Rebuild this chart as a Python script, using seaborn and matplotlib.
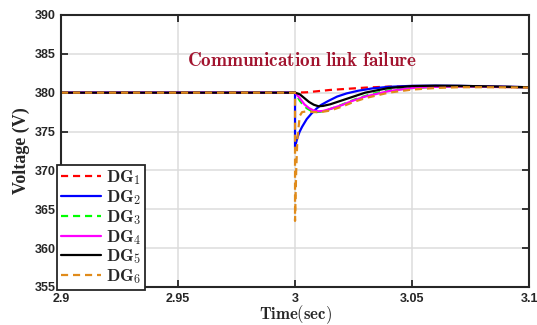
import numpy as np
import pandas as pd
import matplotlib
matplotlib.use("Agg")
import matplotlib.pyplot as plt
import seaborn as sns

# ---- data ----
t_dg1 = [2.9, 3.0, 3.005, 3.01, 3.015, 3.02, 3.03, 3.04, 3.05, 3.06, 3.07, 3.08, 3.09, 3.1]
v_dg1 = [380.0, 380.0, 380.05, 380.2, 380.35, 380.45, 380.65, 380.78, 380.8, 380.8, 380.78, 380.75, 380.72, 380.7]

t_dg2 = [2.9, 3.0, 3.0, 3.001, 3.002, 3.003, 3.005, 3.007, 3.009, 3.011, 3.014, 3.018, 3.022, 3.027,
         3.033, 3.04, 3.05, 3.06, 3.07, 3.08, 3.09, 3.1]
v_dg2 = [380.0, 380.0, 373.0, 374.2, 375.0, 375.6, 376.6, 377.3, 377.9, 378.4, 378.9, 379.5, 379.9, 380.25,
         380.55, 380.75, 380.88, 380.9, 380.88, 380.82, 380.76, 380.7]

t_dg3 = [2.9, 3.0, 3.001, 3.002, 3.003, 3.005, 3.007, 3.009, 3.011, 3.014, 3.018, 3.022, 3.027, 3.033,
         3.04, 3.05, 3.06, 3.07, 3.08, 3.09, 3.1]
v_dg3 = [380.0, 380.0, 379.5, 379.0, 378.6, 378.0, 377.65, 377.5, 377.55, 377.8, 378.2, 378.7, 379.3, 379.85,
         380.3, 380.6, 380.75, 380.8, 380.78, 380.74, 380.7]

t_dg4 = [2.9, 3.0, 3.002, 3.004, 3.006, 3.008, 3.01, 3.012, 3.015, 3.02, 3.025, 3.03, 3.04, 3.05,
         3.06, 3.07, 3.08, 3.09, 3.1]
v_dg4 = [380.0, 380.0, 379.3, 378.5, 378.0, 377.7, 377.6, 377.65, 377.9, 378.4, 379.0, 379.5, 380.2, 380.6,
         380.75, 380.8, 380.78, 380.74, 380.7]

t_dg5 = [2.9, 3.0, 3.002, 3.004, 3.006, 3.008, 3.01, 3.012, 3.015, 3.02, 3.025, 3.03, 3.04, 3.05,
         3.06, 3.07, 3.08, 3.09, 3.1]
v_dg5 = [380.0, 380.0, 379.8, 379.3, 378.8, 378.45, 378.25, 378.3, 378.5, 379.0, 379.5, 380.0, 380.6, 380.85,
         380.9, 380.88, 380.82, 380.76, 380.7]

t_dg6 = [2.9, 3.0, 3.0, 3.0005, 3.001, 3.002, 3.003, 3.005, 3.008, 3.011, 3.015, 3.02, 3.025, 3.03,
         3.04, 3.05, 3.06, 3.07, 3.08, 3.09, 3.1]
v_dg6 = [380.0, 380.0, 363.5, 370.0, 374.0, 377.0, 377.5, 377.6, 377.5, 377.5, 377.7, 378.2, 378.8, 379.3,
         380.0, 380.4, 380.6, 380.7, 380.7, 380.68, 380.65]

labels = [r'$\mathbf{DG}_\mathbf{1}$', r'$\mathbf{DG}_\mathbf{2}$', r'$\mathbf{DG}_\mathbf{3}$',
          r'$\mathbf{DG}_\mathbf{4}$', r'$\mathbf{DG}_\mathbf{5}$', r'$\mathbf{DG}_\mathbf{6}$']
colors = ['#FF0000', '#0000FF', '#00FF00', '#FF00FF', '#000000', '#E08B1B']
dashed = [True, False, True, False, False, True]

x_ticks = [2.9, 2.95, 3.0, 3.05, 3.1]
x_ticklabels = ['2.9', '2.95', '3', '3.05', '3.1']
y_ticks = [355, 360, 365, 370, 375, 380, 385, 390]
annotation = r'$\mathbf{Communication\ link\ failure}$'

# ---- plot ----
sns.set_theme(style='whitegrid')
plt.rcParams['mathtext.fontset'] = 'cm'
plt.rcParams['font.family'] = ['Liberation Sans', 'DejaVu Sans']

fig = plt.figure(figsize=(5.37, 3.25), dpi=100)
ax = fig.add_axes([0.1136, 0.117, 0.8716, 0.837])

series = list(zip([t_dg1, t_dg2, t_dg3, t_dg4, t_dg5, t_dg6],
                  [v_dg1, v_dg2, v_dg3, v_dg4, v_dg5, v_dg6]))
for (tt, vv), lab, col, d in zip(series, labels, colors, dashed):
    df = pd.DataFrame({'t': tt, 'v': vv})
    sns.lineplot(data=df, x='t', y='v', ax=ax, color=col, label=lab, sort=False,
                 estimator=None, linewidth=1.6,
                 linestyle=(0, (3.2, 2.2)) if d else '-')

ax.set_xlim(2.9, 3.1)
ax.set_ylim(355, 390)
ax.set_xticks(x_ticks)
ax.set_xticklabels(x_ticklabels)
ax.set_yticks(y_ticks)
ax.set_facecolor('white')
ax.grid(True, color='#DCDCDC', linewidth=1.1)
for s in ax.spines.values():
    s.set_color('#262626')
    s.set_linewidth(1.5)
    s.set_visible(True)
ax.tick_params(direction='in', length=5, width=1.3, colors='#262626', top=True, right=True,
               bottom=True, left=True, labelsize=9, pad=4)
for lab in ax.get_xticklabels() + ax.get_yticklabels():
    lab.set_fontweight('bold')

ax.set_xlabel(r'$\mathbf{Time(sec)}$', fontsize=12, labelpad=-1)
ax.set_ylabel('Voltage (V)', family='Liberation Serif', fontweight='bold', fontsize=13, labelpad=3)

ax.text(3.003, 384.1, annotation, color='#A2142F', fontsize=13.8,
        ha='center', va='center')

leg = ax.legend(loc='lower left', bbox_to_anchor=(-0.008, -0.01), fontsize=12.5, frameon=True,
                fancybox=False, edgecolor='#262626', handlelength=2.3, handletextpad=0.3,
                borderpad=0.2, labelspacing=0.05, borderaxespad=0)
leg.get_frame().set_linewidth(1.3)
leg.get_frame().set_facecolor('white')
leg.get_frame().set_alpha(1)

fig.savefig('out.png', dpi=100, facecolor='white')
